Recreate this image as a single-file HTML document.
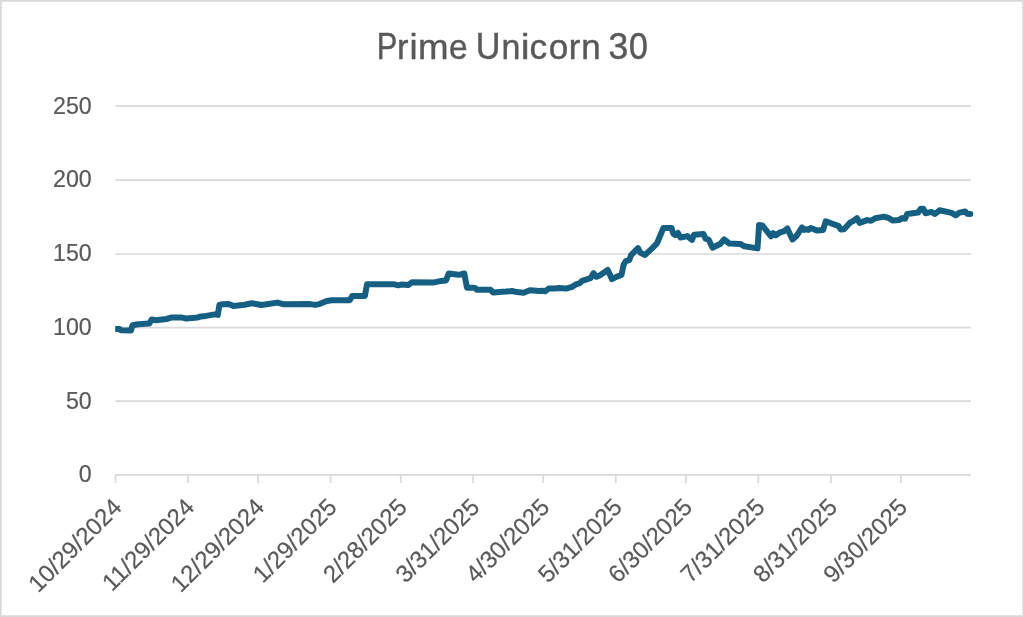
<!DOCTYPE html>
<html><head><meta charset="utf-8"><title>Prime Unicorn 30</title>
<style>
html,body{margin:0;padding:0;background:#fff;}
body{width:1024px;height:617px;overflow:hidden;font-family:"Liberation Sans",sans-serif;}
svg{display:block;will-change:transform;}
text{font-family:"Liberation Sans",sans-serif;fill:#595959;}
</style></head><body>
<svg width="1024" height="617" viewBox="0 0 1024 617">
<defs><clipPath id="pc"><rect x="115.2" y="90" width="880" height="400"/></clipPath></defs>
<rect x="0" y="0" width="1024" height="617" fill="#ffffff"/>
<rect x="0.5" y="0.5" width="1023" height="616" fill="none" stroke="#d9d9d9" stroke-width="1"/>
<rect x="1.5" y="1.5" width="1021" height="614" fill="none" stroke="#e1e1e1" stroke-width="1"/>
<g font-size="35.2" stroke="#595959" stroke-width="0.45" stroke-linejoin="round">
<text transform="matrix(0.8754,0,0,1.0680,376.77,59.45)">P</text>
<text transform="matrix(0.9773,0,0,1.0120,397.12,59.45)">r</text>
<text transform="matrix(1.0343,0,0,1.0150,409.56,59.45)">i</text>
<text transform="matrix(1.0420,0,0,1.0120,418.06,59.45)">m</text>
<text transform="matrix(0.9505,0,0,1.0120,449.08,59.45)">e</text>
<text transform="matrix(0.9705,0,0,1.0680,475.86,59.45)">U</text>
<text transform="matrix(0.9630,0,0,1.0120,501.45,59.45)">n</text>
<text transform="matrix(1.1313,0,0,1.0150,520.74,59.45)">i</text>
<text transform="matrix(1.0048,0,0,1.0120,529.50,59.45)">c</text>
<text transform="matrix(0.9988,0,0,1.0120,548.72,59.45)">o</text>
<text transform="matrix(0.9830,0,0,1.0120,568.80,59.45)">r</text>
<text transform="matrix(0.9898,0,0,1.0120,581.19,59.45)">n</text>
<text transform="matrix(1.0066,0,0,1.0450,608.45,59.45)">3</text>
<text transform="matrix(0.9628,0,0,1.0450,628.98,59.45)">0</text>
</g>
<g stroke="#d9d9d9" stroke-width="1.7" fill="none">
<line x1="115.5" y1="106.2" x2="971.0" y2="106.2"/>
<line x1="115.5" y1="180.2" x2="971.0" y2="180.2"/>
<line x1="115.5" y1="254.0" x2="971.0" y2="254.0"/>
<line x1="115.5" y1="327.55" x2="971.0" y2="327.55"/>
<line x1="115.5" y1="401.15" x2="971.0" y2="401.15"/>
<line x1="115.5" y1="474.85" x2="971.0" y2="474.85"/>
<line x1="115.5" y1="474.85" x2="115.5" y2="483.15"/>
<line x1="188.0" y1="474.85" x2="188.0" y2="483.15"/>
<line x1="258.1" y1="474.85" x2="258.1" y2="483.15"/>
<line x1="330.6" y1="474.85" x2="330.6" y2="483.15"/>
<line x1="400.7" y1="474.85" x2="400.7" y2="483.15"/>
<line x1="473.2" y1="474.85" x2="473.2" y2="483.15"/>
<line x1="543.3" y1="474.85" x2="543.3" y2="483.15"/>
<line x1="615.8" y1="474.85" x2="615.8" y2="483.15"/>
<line x1="685.9" y1="474.85" x2="685.9" y2="483.15"/>
<line x1="758.4" y1="474.85" x2="758.4" y2="483.15"/>
<line x1="830.9" y1="474.85" x2="830.9" y2="483.15"/>
<line x1="901.0" y1="474.85" x2="901.0" y2="483.15"/>
</g>
<g font-size="23.2" text-anchor="end" stroke="#595959" stroke-width="0.2">
<text x="91.7" y="114">250</text>
<text x="91.7" y="187">200</text>
<text x="91.7" y="261">150</text>
<text x="91.7" y="335">100</text>
<text x="91.7" y="409">50</text>
<text x="91.7" y="482">0</text>
</g>
<g font-size="24.0" text-anchor="end" stroke="#595959" stroke-width="0.2">
<text transform="translate(123.2,508.6) rotate(-45)">10/29/2024</text>
<text transform="translate(195.7,508.6) rotate(-45)">11/29/2024</text>
<text transform="translate(265.8,508.6) rotate(-45)">12/29/2024</text>
<text transform="translate(338.3,508.6) rotate(-45)">1/29/2025</text>
<text transform="translate(408.4,508.6) rotate(-45)">2/28/2025</text>
<text transform="translate(480.9,508.6) rotate(-45)">3/31/2025</text>
<text transform="translate(551.0,508.6) rotate(-45)">4/30/2025</text>
<text transform="translate(623.5,508.6) rotate(-45)">5/31/2025</text>
<text transform="translate(693.6,508.6) rotate(-45)">6/30/2025</text>
<text transform="translate(766.1,508.6) rotate(-45)">7/31/2025</text>
<text transform="translate(838.6,508.6) rotate(-45)">8/31/2025</text>
<text transform="translate(908.7,508.6) rotate(-45)">9/30/2025</text>
</g>
<path d="M115.2,329.0 L119.6,329.0 L121.0,330.3 L130.9,330.5 L132.5,325.3 L138.2,324.2 L149.2,323.5 L151.8,319.5 L156.0,320.3 L166.4,319.0 L171.1,317.6 L182.1,317.6 L186.3,318.5 L197.8,317.4 L200.9,316.4 L206.1,315.9 L214.7,314.4 L217.8,314.9 L219.4,305.0 L222.5,304.3 L228.8,304.0 L233.5,306.0 L244.5,304.7 L251.8,303.2 L261.2,305.0 L268.5,304.0 L277.4,302.6 L283.1,304.2 L310.0,304.1 L315.2,304.9 L319.4,304.1 L326.7,300.9 L331.9,300.3 L349.7,300.3 L352.3,295.9 L364.9,295.9 L367.0,284.2 L393.6,284.2 L398.3,285.3 L402.0,284.4 L408.2,285.0 L411.9,282.3 L434.0,282.4 L440.3,281.1 L446.0,280.5 L448.7,273.5 L458.6,274.8 L464.3,273.5 L467.0,287.8 L473.2,287.8 L475.0,287.9 L476.9,289.7 L490.5,289.7 L493.1,292.6 L506.1,291.6 L511.9,291.0 L517.0,292.1 L523.6,292.8 L529.9,290.2 L539.3,291.0 L542.4,290.7 L545.0,291.2 L548.7,288.6 L554.9,288.6 L559.1,288.1 L565.9,288.6 L572.2,286.8 L575.8,284.4 L579.5,283.4 L582.1,280.8 L590.5,278.1 L593.6,273.2 L596.2,276.8 L599.3,275.7 L607.7,270.0 L612.0,279.1 L616.3,276.9 L621.5,275.0 L623.6,264.8 L625.7,261.2 L629.3,260.1 L630.9,255.4 L638.0,248.1 L640.3,252.8 L645.0,254.9 L651.8,248.6 L657.0,243.4 L663.3,228.1 L671.6,228.1 L673.2,233.5 L675.3,235.1 L677.9,233.0 L680.5,237.5 L687.3,236.1 L692.0,239.8 L694.1,234.7 L703.5,234.0 L705.6,238.7 L708.7,239.8 L712.5,247.7 L720.4,243.7 L724.1,239.5 L729.3,243.5 L740.3,243.9 L744.5,246.3 L757.5,248.4 L759.1,224.9 L762.2,225.4 L771.1,236.3 L773.2,233.2 L775.8,235.3 L779.5,232.7 L784.2,231.1 L787.3,228.5 L792.5,239.5 L796.2,236.3 L802.0,227.5 L804.0,229.9 L806.2,229.2 L808.4,229.9 L810.8,228.0 L817.2,230.6 L823.1,229.9 L825.7,221.3 L838.7,226.1 L840.8,229.5 L844.0,229.2 L850.2,222.4 L852.8,221.3 L857.0,218.2 L859.6,222.9 L867.0,220.1 L871.1,220.8 L875.3,218.2 L883.9,216.6 L888.2,217.8 L893.1,220.6 L898.8,220.1 L902.0,218.1 L905.1,218.7 L907.2,213.9 L918.1,212.6 L920.8,208.7 L923.4,208.7 L925.5,213.2 L931.7,211.9 L934.9,214.0 L939.6,210.3 L951.6,212.9 L955.8,215.3 L959.4,212.6 L965.2,211.5 L967.3,213.7 L970.3,214.0" fill="none" stroke="#156082" stroke-width="6.0" stroke-linecap="round" stroke-linejoin="round" clip-path="url(#pc)"/>
</svg>
</body></html>
